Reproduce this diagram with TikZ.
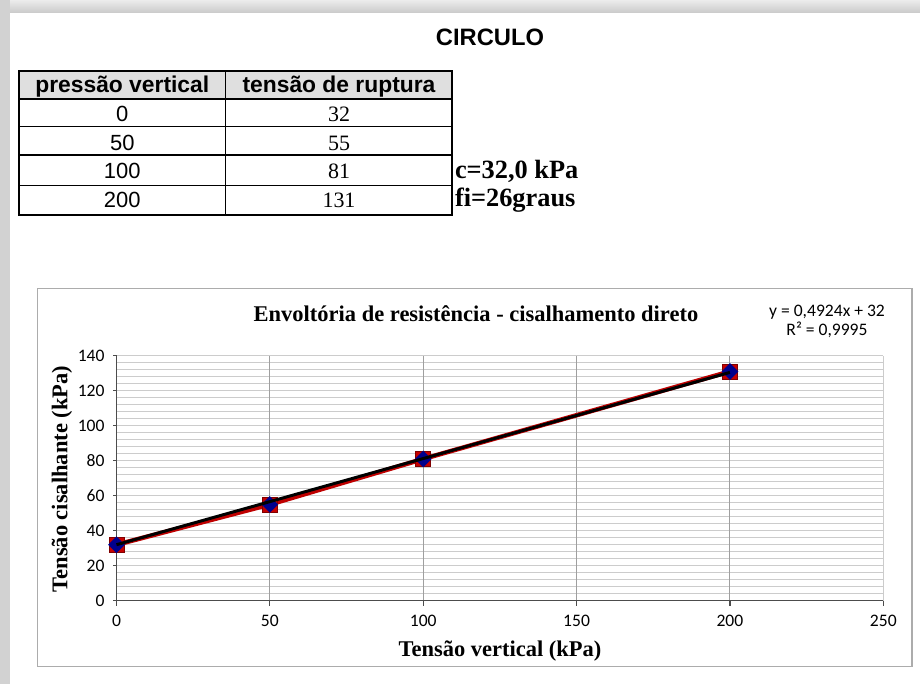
\documentclass[tikz,border=0pt]{standalone}
\usepackage{fontspec}
\setmainfont{Liberation Serif}
\setsansfont{Liberation Sans}
\newfontfamily\calibrifont{Carlito}
\usepackage{xcolor}
\usepackage{tikz}
\usetikzlibrary{positioning, shapes.geometric}

\begin{document}
\begin{tikzpicture}[x=0.02cm, y=-0.02cm,
    every node/.style={inner sep=0pt, outer sep=0pt},
    headcell/.style={font=\sffamily\bfseries\fontsize{13}{15}\selectfont, anchor=base},
    sanscell/.style={font=\sffamily\fontsize{12.5}{14}\selectfont, anchor=base},
    serifcell/.style={font=\fontsize{12.5}{14}\selectfont, anchor=base},
    resultlab/.style={font=\bfseries\fontsize{15}{17}\selectfont, anchor=base west},
    ticklab/.style={font=\calibrifont\fontsize{10}{12}\selectfont},
    axistitle/.style={font=\bfseries\fontsize{12.8}{15}\selectfont},
    tableline/.style={draw=black, line width=0.9pt},
    minorgrid/.style={draw=gray!40, line width=0.5pt},
    majorgrid/.style={draw=gray!75, line width=0.5pt},
    axisline/.style={draw=gray!60!black, line width=0.7pt},
    datasq/.style={rectangle, fill=red!78!black, draw=red!50!black, minimum size=8.5pt},
    datadia/.style={diamond, fill=blue!55!black, minimum size=9.5pt}]
    \useasboundingbox (0,0) rectangle (920,684);
    \fill[white] (0,0) rectangle (920,684);
    \shade[top color=gray!15, bottom color=gray!40] (0,0) rectangle (920,12);
    \fill[gray!35] (0,0) rectangle (10,684);

    \node[font=\sffamily\bfseries\fontsize{13.5}{15}\selectfont, anchor=base] (titulo) at (490,45) {CIRCULO};

    \fill[gray!25] (19,71) rectangle (452,99);
    \draw[tableline] (19,71) rectangle (452,215);
    \foreach \y in {99,126.7,155,185.7}
        \draw[tableline] (19,\y) -- (452,\y);
    \draw[tableline] (225.7,71) -- (225.7,215);

    \node[headcell] (hpres) at (122.3,92.3) {pressão vertical};
    \node[headcell] (hrupt) at (339,92.3) {tensão de ruptura};
    \foreach \p/\t/\b [count=\i] in {0/32/121.7, 50/55/150.3, 100/81/178.6, 200/131/207.7} {
        \node[sanscell] (pres\i) at (122.3,\b) {\p};
        \node[serifcell] (rupt\i) at (339,\b) {\t};
    }
    \node[resultlab] (coesao) at (455,178) {c=32,0 kPa};
    \node[resultlab] (atrito) at (455,206.7) {fi=26graus};

    \draw[draw=gray!65, line width=0.8pt] (37.7,288.3) rectangle (912,666.7);
    \node[axistitle, anchor=base] (grafico) at (476,321.7) {Envoltória de resistência - cisalhamento direto};
    \node[ticklab, anchor=base] (equacao) at (827,316.7) {y = 0,4924x + 32};
    \node[ticklab, anchor=base] (rquad) at (827,335) {R² = 0,9995};
    \node[axistitle, anchor=base] (xtitulo) at (500,656) {Tensão vertical (kPa)};
    \node[axistitle, rotate=90] (ytitulo) at (62,479) {Tensão cisalhante (kPa)};

    \begin{scope}[shift={(116.5,600.7)}, x=0.06136cm, y=0.035cm]
        \foreach \v in {4,8,...,140}
            \draw[minorgrid] (0,\v) -- (250,\v);
        \draw[minorgrid] (250,0) -- (250,140);
        \foreach \u in {50,100,150,200}
            \draw[majorgrid] (\u,0) -- (\u,140);
        \draw[axisline] (0,0) -- (0,140);
        \draw[axisline] (0,0) -- (250,0);
        \foreach \v in {0,20,...,140} {
            \draw[axisline] (0,\v) -- ++(-0.08cm,0);
            \node[ticklab, anchor=east] at ([xshift=-0.24cm]0,\v) {\v};
        }
        \foreach \u in {0,50,...,250} {
            \draw[axisline] (\u,0) -- ++(0,-0.1cm);
            \node[ticklab, anchor=base] at ([yshift=-0.51cm]\u,0) {\u};
        }

        \coordinate (d0) at (0,32);
        \coordinate (d50) at (50,55);
        \coordinate (d100) at (100,81);
        \coordinate (d200) at (200,131);
        \draw[red!75!black, line width=2.6pt, line join=round] (d0) -- (d50) -- (d100) -- (d200);
        \foreach \d in {d0,d50,d100,d200} {
            \node[datasq] at (\d) {};
            \node[datadia] at (\d) {};
        }
        \coordinate (t0) at (0,32);
        \coordinate (t200) at (200,130.48);
        \draw[black, line width=1.7pt] (t0) -- (t200);
    \end{scope}
\end{tikzpicture}
\end{document}
